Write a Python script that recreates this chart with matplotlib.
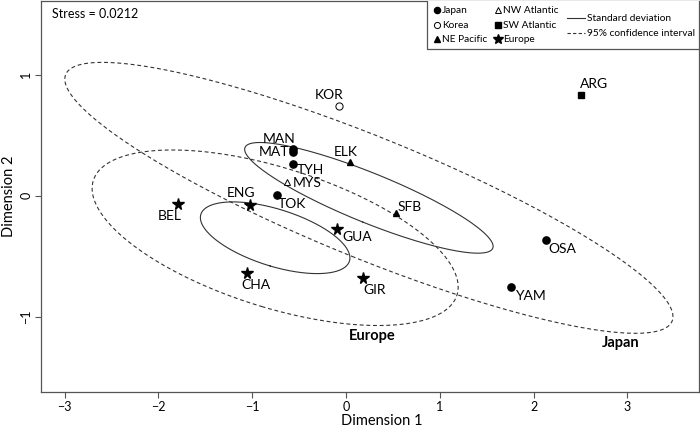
import numpy as np
import matplotlib
matplotlib.use("Agg")
import matplotlib.pyplot as plt
from matplotlib.patches import Rectangle
from matplotlib.lines import Line2D

# ---- data ----
site_names = ["MAN", "MAT", "TYH", "TOK", "OSA", "YAM", "KOR", "ELK", "SFB",
              "MYS", "ARG", "ENG", "BEL", "GUA", "CHA", "GIR"]
dim1 = [-0.56, -0.57, -0.565, -0.73, 2.13, 1.76, -0.07, 0.04, 0.53,
        -0.625, 2.51, -1.02, -1.79, -0.10, -1.05, 0.185]
dim2 = [0.39, 0.36, 0.26, 0.008, -0.366, -0.75, 0.744, 0.28, -0.143,
        0.113, 0.83, -0.074, -0.07, -0.27, -0.64, -0.675]
region = ["Japan", "Japan", "Japan", "Japan", "Japan", "Japan", "Korea",
          "NE Pacific", "NE Pacific", "NW Atlantic", "SW Atlantic",
          "Europe", "Europe", "Europe", "Europe", "Europe"]
region_order = ["Japan", "Korea", "NE Pacific", "NW Atlantic", "SW Atlantic", "Europe"]
ellipse_groups = ["Japan", "Europe"]
stress_text = "Stress = 0.0212"
chi2_95_2df = 5.991

# ---- styles ----
marker_style = {
    "Japan": dict(marker="o", ms=5.2, mfc="black", mec="black"),
    "Korea": dict(marker="o", ms=5.2, mfc="white", mec="black", mew=0.7),
    "NE Pacific": dict(marker="^", ms=5.0, mfc="black", mec="black"),
    "NW Atlantic": dict(marker="^", ms=5.0, mfc="white", mec="black", mew=0.7),
    "SW Atlantic": dict(marker="s", ms=4.8, mfc="black", mec="black"),
    "Europe": dict(marker="*", ms=8.5, mfc="black", mec="black"),
}
# label offsets in pixels (dx, dy up-positive)
label_off = {
    "KOR": (-10, 11), "MAN": (-14, 10), "MAT": (-19, 0), "TYH": (17, -6),
    "MYS": (20, -1), "TOK": (14, -9), "ENG": (-9, 12), "BEL": (-8, -12),
    "CHA": (8, -12), "GUA": (21, -8), "GIR": (11, -12), "ELK": (-4, 10),
    "SFB": (14, 6), "ARG": (13, 11), "OSA": (16, -9), "YAM": (19, -9),
}
group_label_pos = {"Europe": (0.28, -1.157), "Japan": (2.93, -1.215)}

FONT = "Lato"
plt.rcParams["font.family"] = [FONT, "DejaVu Sans"]
ecol = "#333333"

fig = plt.figure(figsize=(7.0, 4.29), dpi=100)
ax = fig.add_axes([0.058, 0.0855, 0.9406, 0.9125])
ax.set_xlim(-3.255, 3.763)
ax.set_ylim(-1.622, 1.61)

x = np.array(dim1)
y = np.array(dim2)
reg = np.array(region)

# ellipses computed from group covariance
t = np.linspace(0, 2 * np.pi, 400)
for g in ellipse_groups:
    m = reg == g
    pts = np.vstack([x[m], y[m]])
    mu = pts.mean(axis=1)
    cov = np.cov(pts)
    vals, vecs = np.linalg.eigh(cov)
    circ = np.vstack([np.cos(t), np.sin(t)])
    base = vecs @ np.diag(np.sqrt(vals)) @ circ
    sd = mu[:, None] + base
    ci = mu[:, None] + np.sqrt(chi2_95_2df) * base
    ax.plot(sd[0], sd[1], color=ecol, lw=0.8)
    ax.plot(ci[0], ci[1], color=ecol, lw=0.8, dashes=(3.5, 2.5))

# points
for g in region_order:
    m = reg == g
    ax.plot(x[m], y[m], ls="none", zorder=3, **marker_style[g])

# labels
for n, xi, yi in zip(site_names, x, y):
    dx, dy = label_off[n]
    ax.annotate(n, (xi, yi), xytext=(dx * 0.72, dy * 0.72), textcoords="offset points",
                ha="center", va="center", fontsize=10)

for g, (gx, gy) in group_label_pos.items():
    ax.text(gx, gy, g, ha="center", va="center", fontsize=10.5, fontweight="bold")

ax.text(0.018, 0.967, stress_text, transform=ax.transAxes, ha="left", va="center", fontsize=9)

# axes styling
for s in ax.spines.values():
    s.set_color("#555555")
    s.set_linewidth(0.9)
ax.set_xticks([-3, -2, -1, 0, 1, 2, 3])
ax.set_yticks([-1, 0, 1])
ax.set_xticklabels(["\u22123", "\u22122", "\u22121", "0", "1", "2", "3"])
ax.set_yticklabels(["\u22121", "0", "1"], rotation=90, va="center")
ax.tick_params(length=4, width=0.8, color="#555555", labelsize=9, pad=2)

W = 0.9406 * 700
H = 0.9125 * 429
def fx(px):
    return (px - 40.7) / W
def fy(py):
    return (392.3 - py) / H

ax.set_xlabel("Dimension 1", fontsize=10.5)
ax.xaxis.set_label_coords(fx(382), fy(421), transform=ax.transAxes)
ax.xaxis.label.set_va("center")
ax.set_ylabel("Dimension 2", fontsize=10.5, labelpad=3)

# legend drawn manually in axes fraction coords
ax.add_patch(Rectangle((fx(426.7), fy(49.3)), fx(699.5) - fx(426.7), fy(-2) - fy(49.3),
                       transform=ax.transAxes, facecolor="white", edgecolor="#555555",
                       lw=0.9, zorder=5))
legend_pos = {
    "Japan": (437, 10.3), "Korea": (437, 25), "NE Pacific": (437, 39.3),
    "NW Atlantic": (498.3, 10.3), "SW Atlantic": (498.3, 25), "Europe": (498.3, 39.3),
}
LFS = 7.3
for g in region_order:
    px, py = legend_pos[g]
    st = dict(marker_style[g])
    st["ms"] = st["ms"] * 0.85
    ax.add_line(Line2D([fx(px)], [fy(py)], ls="none", transform=ax.transAxes, zorder=6, **st))
    ax.text(fx(px + 5), fy(py), g, transform=ax.transAxes, ha="left", va="center",
            fontsize=LFS, zorder=6)
ax.add_line(Line2D([fx(566.7), fx(585)], [fy(18.3), fy(18.3)], color=ecol, lw=0.8,
                   transform=ax.transAxes, zorder=6))
ax.add_line(Line2D([fx(566.7), fx(585)], [fy(33.3), fy(33.3)], color=ecol, lw=0.8,
                   dashes=(3, 2), transform=ax.transAxes, zorder=6))
ax.text(fx(587), fy(18.3), "Standard deviation", transform=ax.transAxes, ha="left",
        va="center", fontsize=LFS, zorder=6)
ax.text(fx(587), fy(33.3), "95% confidence interval", transform=ax.transAxes, ha="left",
        va="center", fontsize=LFS, zorder=6)

fig.savefig("out.png", dpi=100)
